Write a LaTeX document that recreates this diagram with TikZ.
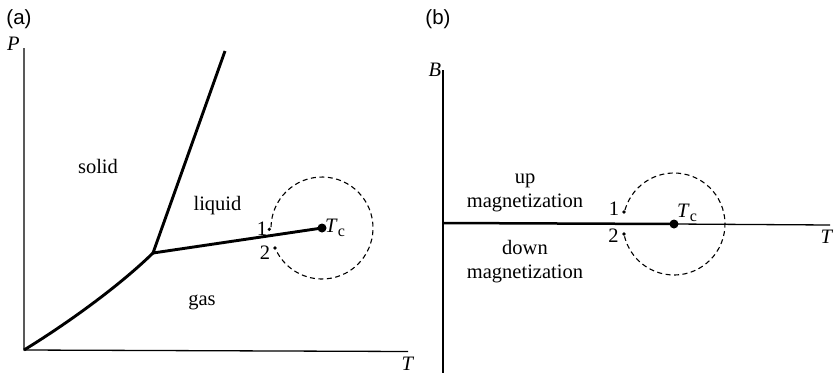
\documentclass[tikz,border=0pt]{standalone}
\usepackage{fontspec}
\setmainfont{Liberation Serif}
\newfontfamily\panelfont{Liberation Sans}
\usetikzlibrary{calc}

\newcommand{\crit}{\textit{T}\raisebox{-0.22em}{\fontsize{16}{16}\selectfont c}}

\begin{document}
\begin{tikzpicture}[x=1pt,y=-1pt,
  axis/.style={line width=1.3},
  curve/.style={line width=2.9},
  ring/.style={line width=1.1, dash pattern=on 5 off 3.5},
  lbl/.style={font=\fontsize{20.5}{24}\selectfont, inner sep=0},
  tag/.style={font=\panelfont\fontsize{20.5}{24}\selectfont, inner sep=0}]
  \useasboundingbox (0,0) rectangle (836,373);

  % (a) P-T plane
  \node[tag] (tagA) at (19,19.5) {(a)};
  \coordinate (orgA) at (24,350);
  \coordinate (topA) at (24,48);
  \coordinate (endA) at (408,351.5);
  \coordinate (triple) at (153,253);
  \coordinate (melt) at (225,51);
  \coordinate (tcA) at (322,228);
  \draw[axis] (topA) -- (orgA) -- (endA);
  \node[lbl, anchor=base] (labP) at (13.5,50) {\textit{P}};
  \node[lbl, anchor=base] (labTa) at (408,370) {\textit{T}};
  \draw[curve] (orgA) .. controls (60,328) and (115,290) .. (triple);
  \draw[curve] (triple) -- (melt);
  \draw[curve] (triple) -- (tcA);
  \fill (tcA) circle (4.5);
  \draw[ring] ($(tcA)+(181:51)$) arc[start angle=181, end angle=515, radius=51];
  \coordinate (oneA) at (269.3,229.3);
  \coordinate (twoA) at (275,248);
  \fill (oneA) circle (1.8);
  \fill (twoA) circle (1.8);
  \node[lbl, anchor=base] (numOneA) at (262,235) {1};
  \node[lbl, anchor=base] (numTwoA) at (265,259.5) {2};
  \node[lbl, anchor=base west] (labTcA) at (325,232) {\crit};
  \node[lbl, anchor=base] (solid) at (98,173) {solid};
  \node[lbl, anchor=base] (liquid) at (217.5,210) {liquid};
  \node[lbl, anchor=base] (gas) at (202,305) {gas};

  % (b) B-T plane
  \node[tag] (tagB) at (438,19.5) {(b)};
  \coordinate (orgB) at (443,223);
  \coordinate (topB) at (443,70);
  \coordinate (botB) at (443,373);
  \coordinate (endB) at (830,225);
  \coordinate (tcB) at (674,224);
  \draw[axis] (topB) -- (botB);
  \draw[axis] (tcB) -- (endB);
  \draw[curve, line width=2.5] (orgB) -- (tcB);
  \node[lbl, anchor=base] (labB) at (435,76.5) {\textit{B}};
  \node[lbl, anchor=base] (labTb) at (827,243) {\textit{T}};
  \fill (tcB) circle (4.5);
  \draw[ring] ($(tcB)+(196:51)$) arc[start angle=196, end angle=526, radius=51];
  \coordinate (oneB) at (624,212);
  \coordinate (twoB) at (624,234);
  \fill (oneB) circle (1.8);
  \fill (twoB) circle (1.8);
  \node[lbl, anchor=base] (numOneB) at (614,215) {1};
  \node[lbl, anchor=base] (numTwoB) at (613.5,242) {2};
  \node[lbl, anchor=base west] (labTcB) at (677,217) {\crit};
  \node[lbl, align=center] (upMag) at (525,193) {up\\magnetization};
  \node[lbl, align=center] (downMag) at (525,261.5) {down\\magnetization};
\end{tikzpicture}
\end{document}
